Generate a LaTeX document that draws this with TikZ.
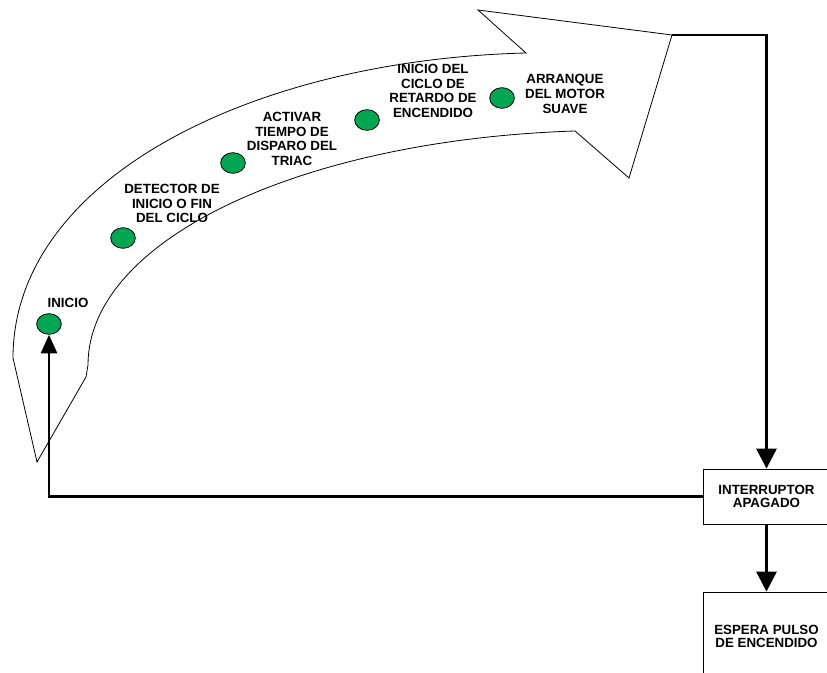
\documentclass[tikz,border=0pt]{standalone}
\usepackage{fontspec}
\setmainfont{Liberation Sans}
\usepackage{xcolor}
\usepackage{tikz}
\usetikzlibrary{arrows.meta,shapes.geometric}
\definecolor{verde}{HTML}{00A651}
\tikzset{
  punto/.style={ellipse,draw,fill=verde,line width=0.6pt,minimum width=18.5pt,minimum height=15.5pt,inner sep=0pt},
  etiqueta/.style={font=\bfseries\fontsize{10}{11}\selectfont,align=center,inner sep=0pt},
  caja/.style={draw,line width=0.6pt,font=\bfseries\fontsize{10}{10}\selectfont,align=center,minimum width=95.25pt},
  flecha/.style={line width=2.2pt,-{Triangle[length=15pt,width=15pt]}},
  flechachica/.style={line width=2.2pt,-{Triangle[length=14pt,width=12pt]}},
}

\begin{document}
\begin{tikzpicture}[x=0.75pt, y=-0.75pt]
  \useasboundingbox (0,0) rectangle (827,673);
  \clip (0,0) rectangle (827,673);

  % big curved arrow
  \draw[line width=0.6pt,fill=white] (37,462) -- (13,358)
    .. controls (13,180) and (250,60) .. (526,53)
    -- (478,10) -- (672,35) -- (629,178) -- (575,131)
    .. controls (300,140) and (88,240) .. (88,365)
    -- (86,377) -- cycle;
  \coordinate (punta) at (672,35);

  % steps
  \foreach \n/\x/\y in {inicio/49/324, detector/123/238, activar/233/163, retardo/367/120, arranque/502/98}
    \node[punto] (\n) at (\x,\y) {};
  \node[etiqueta] (tinicio) at (68,303) {INICIO};
  \node[etiqueta] (tdetector) at (172,203.5) {DETECTOR DE\\INICIO O FIN\\DEL CICLO};
  \node[etiqueta] (tactivar) at (292,139) {ACTIVAR\\TIEMPO DE\\DISPARO DEL\\TRIAC};
  \node[etiqueta] (tretardo) at (433,91) {INICIO DEL\\CICLO DE\\RETARDO DE\\ENCENDIDO};
  \node[etiqueta] (tarranque) at (565,94) {ARRANQUE\\DEL MOTOR\\SUAVE};

  % boxes
  \node[caja,minimum height=41.25pt] (interruptor) at (766.5,496.5) {INTERRUPTOR\\APAGADO};
  \node[caja,minimum height=66.75pt] (espera) at (766.5,636.5) {ESPERA PULSO\\DE ENCENDIDO};

  % connectors
  \draw[flecha] (punta) -| (interruptor.north);
  \draw[flecha] (interruptor.south) -- (espera.north);
  \draw[flechachica] (interruptor.west) -| (inicio.south);
\end{tikzpicture}
\end{document}
